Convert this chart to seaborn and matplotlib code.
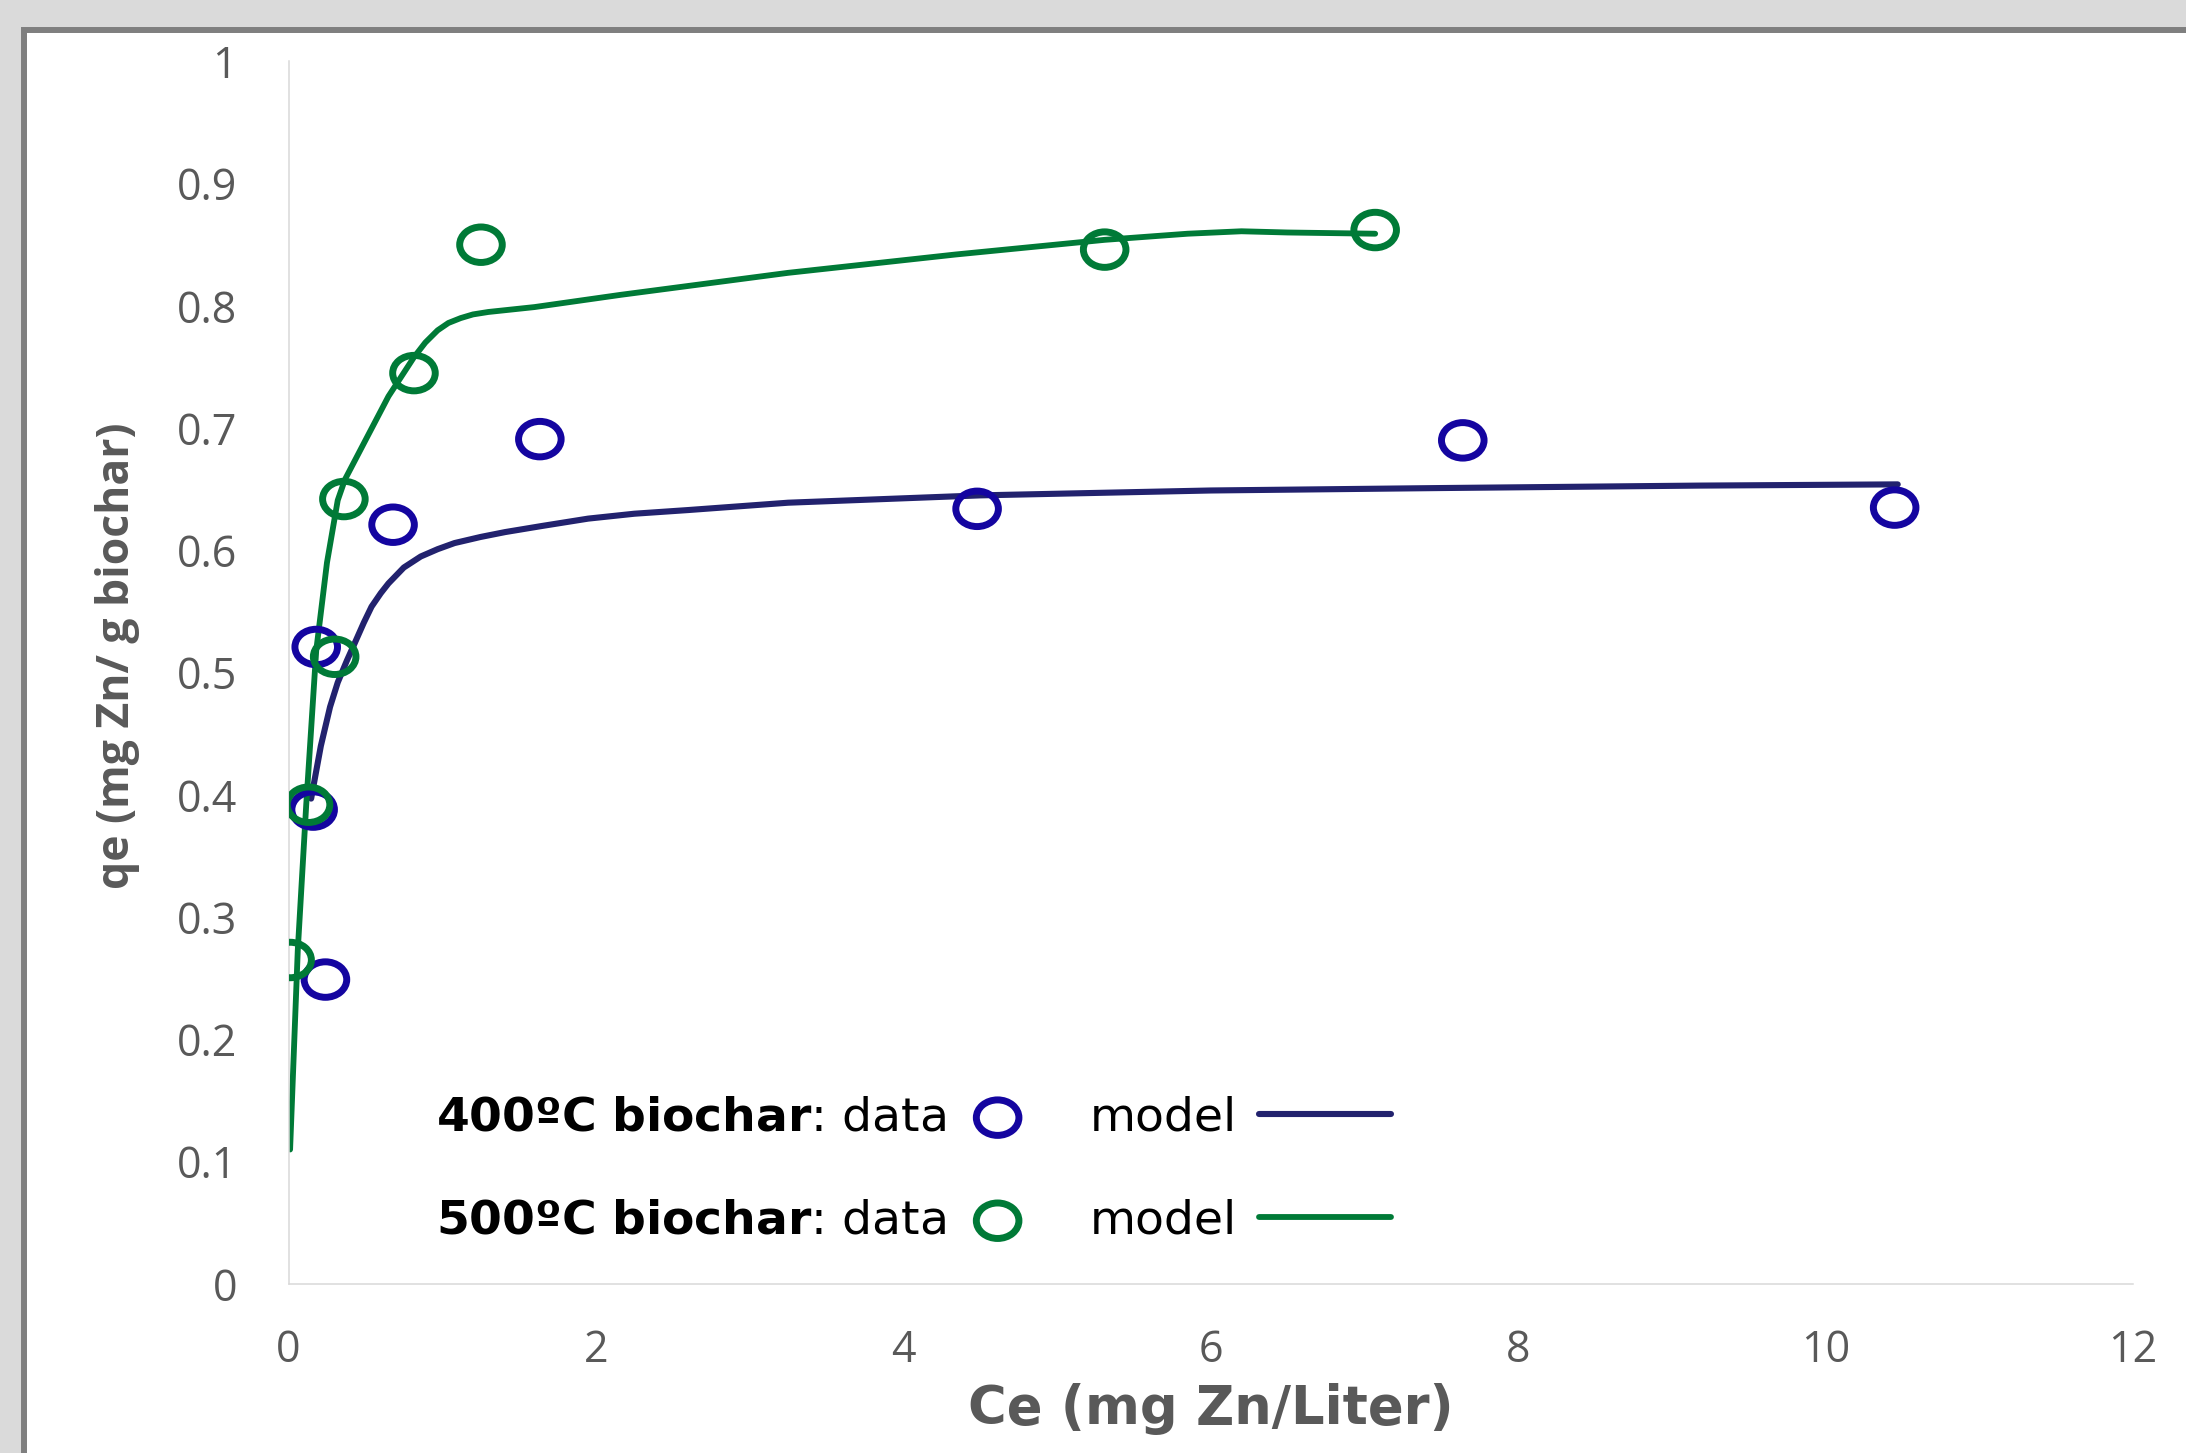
import matplotlib
matplotlib.use("Agg")
import matplotlib.pyplot as plt
import seaborn as sns
from matplotlib.path import Path
from matplotlib.transforms import Affine2D
from matplotlib.patches import Rectangle

# 400ºC biochar: measured points
ce_400 = [0.24, 0.16, 0.18, 0.68, 1.635, 4.48, 7.64, 10.45]
qe_400 = [0.249, 0.388, 0.521, 0.621, 0.691, 0.634, 0.690, 0.635]

# 400ºC biochar: model curve
ce_400_model = [0.147, 0.21, 0.27, 0.32, 0.38, 0.43, 0.49, 0.54, 0.60, 0.65, 0.75, 0.86,
                0.97, 1.08, 1.25, 1.41, 1.65, 1.95, 2.25, 2.60, 3.25, 4.5, 6.0, 7.5,
                9.18, 10.47]
qe_400_model = [0.397, 0.44, 0.472, 0.492, 0.510, 0.524, 0.541, 0.554, 0.565, 0.573, 0.586, 0.595,
                0.601, 0.606, 0.611, 0.615, 0.620, 0.626, 0.630, 0.633, 0.639, 0.645, 0.649, 0.651,
                0.653, 0.654]

# 500ºC biochar: measured points
ce_500 = [0.01, 0.13, 0.30, 0.36, 0.816, 1.252, 5.31, 7.07]
qe_500 = [0.265, 0.392, 0.513, 0.642, 0.745, 0.850, 0.846, 0.862]

# 500ºC biochar: model curve
ce_500_model = [0.01, 0.06, 0.115, 0.18, 0.25, 0.32, 0.367, 0.50, 0.65, 0.816, 0.89,
                0.97, 1.04, 1.12, 1.20, 1.30, 1.60, 2.16, 3.25, 4.34, 5.31, 5.85,
                6.20, 6.50, 7.07]
qe_500_model = [0.11, 0.273, 0.392, 0.518, 0.590, 0.641, 0.658, 0.690, 0.726, 0.758, 0.770,
                0.780, 0.786, 0.790, 0.793, 0.795, 0.799, 0.809, 0.827, 0.842, 0.854, 0.859,
                0.861, 0.860, 0.859]

x_ticks = [0, 2, 4, 6, 8, 10, 12]
x_tick_labels = ["0", "2", "4", "6", "8", "10", "12"]
y_ticks = [0, 0.1, 0.2, 0.3, 0.4, 0.5, 0.6, 0.7, 0.8, 0.9, 1.0]
y_tick_labels = ["0", "0.1", "0.2", "0.3", "0.4", "0.5", "0.6", "0.7", "0.8", "0.9", "1"]

blue_mark = "#1405a0"
blue_line = "#22226e"
green = "#007a37"
grey_text = "#595959"

sns.set_theme(style="white")
plt.rcParams["font.family"] = ["DejaVu Sans"]
plt.rcParams["mathtext.fontset"] = "dejavusans"

fig = plt.figure(figsize=(21.86, 14.53), dpi=100, facecolor="#dadada")

# white chart area with grey frame (left/top edges visible)
frame = Rectangle((0.0112, -0.05), 1.2, 0.97935 + 0.05, transform=fig.transFigure,
                  facecolor="white", edgecolor="#7f7f7f", linewidth=4.3, zorder=-1)
fig.add_artist(frame)

ax = fig.add_axes([0.1320, 0.1163, 0.8437, 0.8415])
ax.set_facecolor("none")

# open circles look slightly wide in the original
ellipse = Path.unit_circle().transformed(Affine2D().scale(1.2, 1.0))

sns.lineplot(x=ce_400_model, y=qe_400_model, sort=False, estimator=None,
             color=blue_line, linewidth=4.4, solid_joinstyle="round",
             solid_capstyle="round", ax=ax)
line_400 = ax.lines[-1]
sns.lineplot(x=ce_500_model, y=qe_500_model, sort=False, estimator=None,
             color=green, linewidth=4.2, solid_joinstyle="round",
             solid_capstyle="round", ax=ax)
line_500 = ax.lines[-1]

sns.scatterplot(x=ce_400, y=qe_400, marker=ellipse, s=940, facecolor="none",
                edgecolor=blue_mark, linewidth=5.0, ax=ax, zorder=3)
pts_400 = ax.collections[-1]
sns.scatterplot(x=ce_500, y=qe_500, marker=ellipse, s=940, facecolor="none",
                edgecolor=green, linewidth=5.0, ax=ax, zorder=3)
pts_500 = ax.collections[-1]

ax.set_xlim(0, 12)
ax.set_ylim(0, 1)
ax.set_xticks(x_ticks)
ax.set_xticklabels(x_tick_labels)
ax.set_yticks(y_ticks)
ax.set_yticklabels(y_tick_labels)
ax.tick_params(axis="both", length=0, labelsize=31, labelcolor=grey_text)
ax.tick_params(axis="y", pad=37)
ax.tick_params(axis="x", pad=32)
for lab in ax.get_xticklabels() + ax.get_yticklabels():
    lab.set_fontfamily("Open Sans")

for side in ["top", "right"]:
    ax.spines[side].set_visible(False)
for side in ["left", "bottom"]:
    ax.spines[side].set_color("#d9d9d9")
    ax.spines[side].set_linewidth(1.1)

ax.set_xlabel("Ce (mg Zn/Liter)", fontsize=38, fontweight="bold", color=grey_text)
ax.set_ylabel("qe (mg Zn/ g biochar)", fontsize=32, fontweight="bold", color=grey_text,
              fontfamily="Open Sans")
ax.xaxis.label.set_va("center")
ax.yaxis.label.set_va("center")
ax.xaxis.set_label_coords(0.5, -0.102)
ax.yaxis.set_label_coords(-0.0925, 0.514)

leg_data = ax.legend(
    handles=[pts_400, pts_500],
    labels=[r"$\mathbf{400ºC\ biochar}$: data", r"$\mathbf{500ºC\ biochar}$: data"],
    loc="center left", bbox_to_anchor=(0.0799, 0.094), frameon=False,
    markerfirst=False, handlelength=1.6, handletextpad=0.3, labelspacing=1.23,
    borderpad=0, borderaxespad=0, prop={"size": 34}, labelcolor="black")
ax.add_artist(leg_data)

ax.legend(
    handles=[line_400, line_500], labels=["model", "model"],
    loc="center left", bbox_to_anchor=(0.4345, 0.094), frameon=False,
    markerfirst=False, handlelength=2.8, handletextpad=0.47, labelspacing=1.23,
    borderpad=0, borderaxespad=0, prop={"size": 34}, labelcolor="black")

fig.savefig("out.png", dpi=100, facecolor=fig.get_facecolor())
